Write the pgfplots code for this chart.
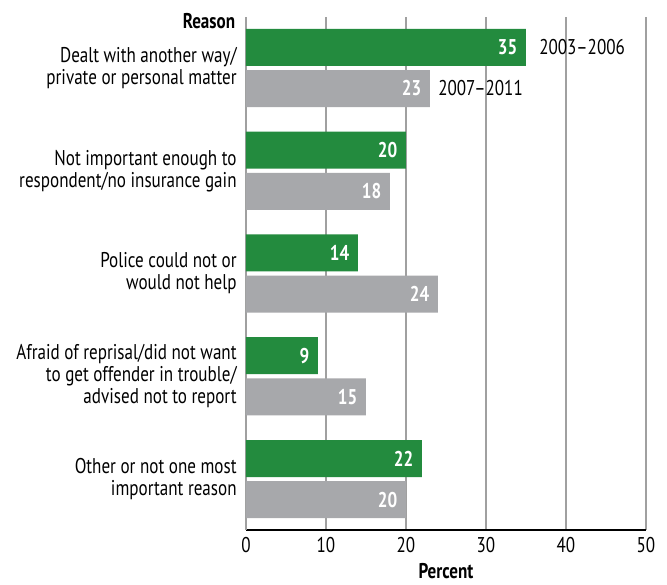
\documentclass[border=0pt]{standalone}
\usepackage{pgfplots}
\pgfplotsset{compat=1.18}
\usepackage{fontspec}
\setmainfont[FakeStretch=0.8]{PT Sans}
\definecolor{bargreen}{HTML}{238B3E}
\definecolor{bargray}{HTML}{A7A8AB}
\definecolor{gridgray}{HTML}{A0A0A0}
\newcommand{\ff}{\fontsize{16}{16.5}\selectfont}
\begin{document}
\ff
\begin{tikzpicture}
\begin{axis}[
  name=ax,
  scale only axis,
  width=300pt, height=384.4pt,
  xmin=0, xmax=50, ymin=0.509, ymax=5.496,
  xbar, bar width=0.36, bar shift=0pt,
  axis x line*=bottom, axis y line*=left,
  axis line style={-},
  x axis line style={black, line width=1.5pt},
  y axis line style={gridgray, line width=0.8pt},
  xtick={0,10,20,30,40,50},
  major tick length=0pt,
  xmajorgrids, grid style={gridgray, line width=0.8pt},
  ytick={1,2,3,4,5},
  yticklabels={{Other or not one most\\important reason},
               {Afraid of reprisal/did not want\\to get offender in trouble/\\advised not to report},
               {Police could not or\\would not help},
               {Not important enough to\\respondent/no insurance gain},
               {Dealt with another way/\\private or personal matter}},
  yticklabel style={align=right, font=\ff, xshift=-1.5pt},
  xticklabel style={font=\ff},
  /pgf/number format/assume math mode=true,
  xlabel={\bfseries Percent},
  xlabel style={font=\ff, yshift=2.5pt},
  point meta=x,
  nodes near coords,
  nodes near coords style={anchor=east, text=white, font=\ff\bfseries, xshift=-1pt},
  clip=false,
]
\addplot[draw=none, fill=bargreen] coordinates {(35,5.2) (20,4.2) (14,3.2) (9,2.2) (22,1.2)};
\addplot[draw=none, fill=bargray] coordinates {(23,4.8) (18,3.8) (24,2.8) (15,1.8) (20,0.8)};
\node[anchor=west, inner sep=0pt, xshift=9.75pt] at (axis cs:35,5.2) {2003–2006};
\node[anchor=west, inner sep=0pt, xshift=6pt] at (axis cs:23,4.8) {2007–2011};
\node[anchor=east, inner sep=0pt, xshift=-8pt, yshift=-3pt, font=\ff\bfseries] at (rel axis cs:0,1) {Reason};
\coordinate (SW) at (rel axis cs:0,0);
\coordinate (NE) at (rel axis cs:1,1);
\end{axis}
\pgfresetboundingbox
\useasboundingbox ([shift={(-184.5pt,-40.9pt)}]SW) rectangle ([shift={(15.75pt,12.75pt)}]NE);
\end{tikzpicture}
\end{document}
